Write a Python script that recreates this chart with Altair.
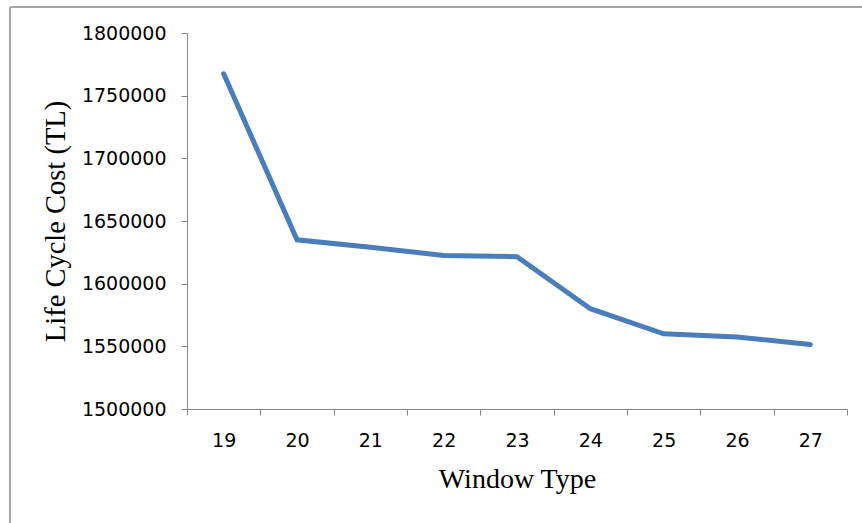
import altair as alt
import pandas as pd

# Life cycle cost per window type
window_types = [19, 20, 21, 22, 23, 24, 25, 26, 27]
costs = [1767500, 1635000, 1629000, 1622500, 1621500, 1580000, 1560000, 1557500, 1551500]

# Axis ticks: labels at each window type, tick marks between categories
x_tick_values = [18.5 + 0.5 * i for i in range(19)]
y_tick_values = [1500000, 1550000, 1600000, 1650000, 1700000, 1750000, 1800000]

df = pd.DataFrame({"window": window_types, "cost": costs})

AXIS_GREY = "#868686"
LABEL_FONT = "DejaVu Sans"
TITLE_FONT = "Liberation Serif"

x_axis = alt.Axis(
    values=x_tick_values,
    labelExpr="datum.value % 1 == 0 ? format(datum.value, 'd') : ''",
    tickOpacity={"condition": {"test": "datum.value % 1 == 0", "value": 0}, "value": 1},
    tickSize=6,
    tickColor=AXIS_GREY,
    domainColor=AXIS_GREY,
    labelFont=LABEL_FONT,
    labelFontSize=19,
    labelColor="black",
    labelPadding=16,
    labelFlush=False,
    labelOverlap=False,
    grid=False,
    title="Window Type",
    titleFont=TITLE_FONT,
    titleFontSize=28,
    titleFontWeight="normal",
    titleColor="black",
    titlePadding=15,
)

y_axis = alt.Axis(
    values=y_tick_values,
    format="d",
    tickSize=6,
    tickColor=AXIS_GREY,
    domainColor=AXIS_GREY,
    labelFont=LABEL_FONT,
    labelFontSize=19,
    labelColor="black",
    labelPadding=15,
    grid=False,
    title="Life Cycle Cost (TL)",
    titleFont=TITLE_FONT,
    titleFontSize=28.5,
    titleFontWeight="normal",
    titleColor="black",
    titlePadding=11,
)

line = alt.Chart(df).mark_line(
    color="#4a7ebb", strokeWidth=5, strokeCap="round"
).encode(
    x=alt.X("window:Q", scale=alt.Scale(domain=[18.5, 27.5], nice=False, zero=False), axis=x_axis),
    y=alt.Y("cost:Q", scale=alt.Scale(domain=[1500000, 1800000], nice=False, zero=False), axis=y_axis),
)

# Outer chart frame (top and left edges)
frame_src = pd.DataFrame({"k": [0]})
frame_top = alt.Chart(frame_src).mark_rule(color="#a6a6a6", strokeWidth=2).encode(
    x=alt.value(-177), x2=alt.value(700), y=alt.value(-26)
)
frame_left = alt.Chart(frame_src).mark_rule(color="#a6a6a6", strokeWidth=2).encode(
    x=alt.value(-177), y=alt.value(-26), y2=alt.value(520)
)

chart = alt.layer(line, frame_top, frame_left).properties(
    width=660,
    height=376,
    autosize=alt.AutoSizeParams(type="none"),
    padding={"left": 187, "top": 33, "right": 15, "bottom": 114},
    background="white",
).configure_view(stroke=None)

chart.save("out.html", embed_options={"renderer": "svg", "actions": False})
